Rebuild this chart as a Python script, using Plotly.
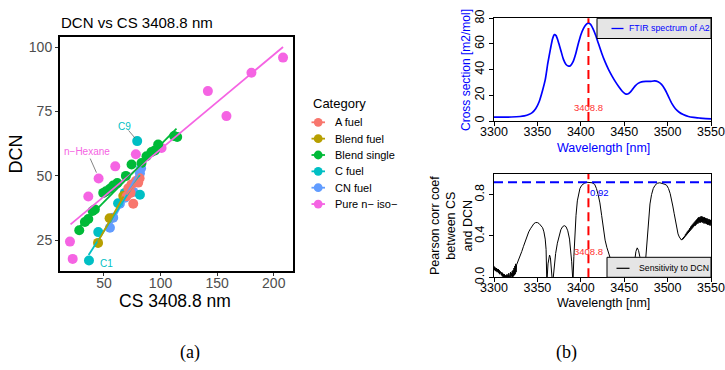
import numpy as np
import plotly.graph_objects as go

W, H = 725, 370
SANS = "Liberation Sans"

# ---------------- panel (a): DCN against cross section at 3408.8 nm ----------------
categories = ["A fuel", "Blend fuel", "Blend single", "C fuel", "CN fuel", "Pure n\u2212 iso\u2212"]
colors = ["#F8766D", "#B79F00", "#00BA38", "#00BFC4", "#619CFF", "#F564E3"]

a_fuel_cs = [81.5, 78.2, 74.4, 71.5, 73.5, 70.0, 75.9, 80.3]
a_fuel_dcn = [49.1, 48.0, 46.7, 45.2, 43.4, 42.1, 39.2, 47.4]

blend_fuel_cs = [44.8, 55.0, 67.1]
blend_fuel_dcn = [24.0, 33.6, 42.2]

blend_single_cs = [114.7, 112.0, 97.9, 95.0, 92.0, 87.6, 83.2, 74.4, 69.4, 61.8,
                   58.2, 55.3, 51.8, 49.4, 42.0, 40.0, 36.2, 33.2, 28.2]
blend_single_dcn = [65.1, 65.5, 62.2, 59.9, 59.3, 57.6, 55.0, 54.4, 50.0, 47.2,
                    46.3, 45.0, 44.0, 43.4, 37.0, 36.4, 33.3, 32.1, 28.9]

c_fuel_cs = [36.8, 45.0, 62.5, 68.5, 79.4, 81.8]
c_fuel_dcn = [17.2, 28.2, 39.4, 43.4, 63.5, 42.7]

cn_fuel_cs = [55.3, 58.2, 64.1, 68.5, 75.9, 81.8, 82.8]
cn_fuel_dcn = [29.9, 33.8, 39.2, 41.5, 43.8, 51.0, 53.0]

pure_cs = [208.2, 180.3, 141.8, 158.2, 78.2, 60.0, 45.3, 36.2, 20.0, 22.4, 100.9]
pure_dcn = [95.9, 90.0, 82.9, 73.2, 58.4, 53.7, 49.0, 42.0, 24.5, 17.8, 60.8]

# end points of the per-category least-squares lines
fit_x = {
    "A fuel": [70.0, 81.8], "Blend fuel": [44.6, 67.3], "Blend single": [27.4, 114.1],
    "C fuel": [36.5, 81.8], "CN fuel": [55.3, 82.8], "Pure n\u2212 iso\u2212": [20.5, 208.2],
}
fit_y = {
    "A fuel": [42.8, 49.4], "Blend fuel": [24.4, 42.0], "Blend single": [29.8, 68.3],
    "C fuel": [19.3, 50.3], "CN fuel": [30.3, 53.6], "Pure n\u2212 iso\u2212": [31.2, 100.0],
}

points = {
    "A fuel": (a_fuel_cs, a_fuel_dcn),
    "Blend fuel": (blend_fuel_cs, blend_fuel_dcn),
    "Blend single": (blend_single_cs, blend_single_dcn),
    "C fuel": (c_fuel_cs, c_fuel_dcn),
    "CN fuel": (cn_fuel_cs, cn_fuel_dcn),
    "Pure n\u2212 iso\u2212": (pure_cs, pure_dcn),
}
draw_order = ["Pure n\u2212 iso\u2212", "CN fuel", "C fuel", "Blend fuel", "A fuel", "Blend single"]

# labelled fuels: (text, label x, label y, point x, point y, colour)
point_labels = [
    ("C9", 68.5, 69.0, 79.4, 63.5, "#00BFC4"),
    ("n\u2212Hexane", 34.7, 59.3, 45.3, 49.0, "#F564E3"),
    ("C1", 52.4, 16.2, None, None, "#00BFC4"),
]

# ---------------- panel (b), top: FTIR spectrum of A2 ----------------
ftir_wl = [3300, 3310, 3320, 3330, 3335, 3340, 3344, 3348, 3352, 3356, 3359, 3362,
           3365, 3367.5, 3369.5, 3371.5, 3374, 3377, 3380, 3383, 3386, 3388, 3391,
           3394, 3397, 3400, 3403, 3406, 3408.5, 3411, 3414, 3417, 3420, 3424, 3428,
           3432, 3436, 3440, 3444, 3448, 3451, 3454, 3457, 3460, 3463, 3466, 3470,
           3475, 3480, 3485, 3489, 3493, 3497, 3501, 3505, 3509, 3513, 3518, 3524,
           3530, 3537, 3544, 3550]
ftir_cs = [3.0, 3.0, 3.1, 3.5, 4.0, 5.0, 6.5, 9.5, 15.0, 24.0, 32.0, 45.0,
           56.0, 64.0, 67.3, 66.5, 62.0, 55.0, 48.0, 44.0, 42.7, 43.0, 46.0,
           52.0, 60.0, 67.0, 72.0, 75.0, 76.2, 75.5, 72.0, 67.0, 61.0, 53.0, 46.0,
           40.0, 35.0, 30.5, 26.5, 23.0, 21.3, 21.0, 22.5, 25.0, 27.5, 29.3, 30.5,
           30.8, 30.8, 31.2, 30.5, 28.5, 24.5, 19.0, 13.5, 9.5, 7.0, 5.0, 3.5,
           2.8, 2.3, 1.9, 1.6]

PEAK_WL = 3408.8
MAX_R = 0.92

# ---------------- panel (b), bottom: Pearson correlation of CS with DCN ----------------
pearson_wl_left = np.arange(3300.0, 3326.01, 0.5)
pearson_r_left = [0.11, 0.07, 0.10, 0.06, 0.09, 0.06, 0.09, 0.05, 0.08, 0.05,
                  0.08, 0.04, 0.07, 0.03, 0.06, 0.03, 0.05, 0.02, 0.05, 0.01,
                  0.04, 0.00, 0.03, -0.01, 0.03, -0.02, 0.02, -0.02, 0.02, -0.01,
                  0.03, -0.02, 0.02, -0.01, 0.04, 0.00, 0.03, -0.01, 0.05, 0.00,
                  0.04, 0.01, 0.06, 0.00, 0.07, 0.01, 0.09, 0.02, 0.11, 0.03,
                  0.13, 0.05, 0.12]

pearson_wl_mid = [3326.5, 3328, 3330, 3332, 3334, 3336, 3338, 3340, 3342, 3344, 3346,
                  3348, 3350, 3352, 3354, 3356, 3357.5, 3359, 3360, 3360.7, 3361.0,
                  3361.3, 3362.2, 3363, 3364, 3365, 3366, 3367.3, 3367.8,
                  3368.3, 3369.5, 3371, 3373, 3375, 3377, 3379, 3381, 3383, 3385, 3387,
                  3388.5, 3389.5, 3390.6, 3390.8,
                  3391.2, 3392, 3393, 3394.5, 3396, 3397.5, 3399, 3401, 3404, 3407, 3410,
                  3413, 3416, 3418, 3420, 3422, 3424, 3426, 3428, 3430, 3432, 3434, 3436,
                  3438, 3440, 3442, 3458,
                  3460, 3462, 3463.5, 3465, 3466.5, 3468, 3470, 3472,
                  3474.5, 3475.5, 3476.6, 3478, 3479.7, 3481.5, 3483.5, 3485.5, 3488, 3491,
                  3494, 3497, 3499, 3501, 3503, 3504.6, 3506, 3507.5, 3509, 3510.5, 3512,
                  3513.5, 3515, 3516]
pearson_r_mid = [0.13, 0.16, 0.20, 0.25, 0.30, 0.35, 0.40, 0.44, 0.47, 0.50, 0.52,
                 0.53, 0.53, 0.52, 0.50, 0.48, 0.44, 0.37, 0.27, 0.0, -0.1,
                 0.0, 0.13, 0.20, 0.215, 0.19, 0.11, 0.0, -0.1,
                 0.0, 0.12, 0.23, 0.33, 0.41, 0.46, 0.49, 0.50, 0.49, 0.45, 0.37,
                 0.27, 0.15, 0.0, -0.1,
                 0.0, 0.20, 0.39, 0.60, 0.74, 0.81, 0.86, 0.89, 0.91, 0.92, 0.92,
                 0.915, 0.90, 0.86, 0.80, 0.72, 0.60, 0.46, 0.36, 0.29, 0.24, 0.19, 0.13,
                 0.06, 0.0, -0.1, -0.1,
                 0.05, 0.17, 0.25, 0.285, 0.26, 0.20, 0.10, 0.0,
                 0.15, 0.25, 0.39, 0.56, 0.71, 0.80, 0.86, 0.89, 0.91, 0.915,
                 0.91, 0.90, 0.89, 0.86, 0.81, 0.76, 0.69, 0.62, 0.54, 0.47, 0.42,
                 0.39, 0.37, 0.36]

pearson_wl_right = np.arange(3516.5, 3550.01, 0.5)
pearson_r_right = [0.37, 0.365, 0.38, 0.37, 0.39, 0.38, 0.40, 0.39, 0.415, 0.40,
                   0.425, 0.41, 0.44, 0.42, 0.45, 0.43, 0.46, 0.44, 0.475, 0.45,
                   0.49, 0.46, 0.50, 0.47, 0.51, 0.48, 0.52, 0.49, 0.53, 0.50,
                   0.54, 0.50, 0.55, 0.51, 0.56, 0.52, 0.57, 0.52, 0.58, 0.53,
                   0.58, 0.53, 0.585, 0.53, 0.59, 0.535, 0.59, 0.53, 0.585, 0.53,
                   0.58, 0.52, 0.58, 0.525, 0.575, 0.52, 0.57, 0.515, 0.57, 0.51,
                   0.565, 0.51, 0.56, 0.505, 0.56, 0.50, 0.555, 0.51]

wl_ticks = [3300, 3350, 3400, 3450, 3500, 3550]


def fx(p):
    """pixel column -> paper x"""
    return p / W


def fy(p):
    """pixel row -> paper y"""
    return 1 - p / H


def note(x, y, text, size, color="black", xanchor="center", angle=0, family=SANS,
         xref="paper", yref="paper"):
    return dict(x=x, y=y, xref=xref, yref=yref, text=text, showarrow=False,
                xanchor=xanchor, yanchor="middle", textangle=angle,
                font=dict(family=family, size=size, color=color))


fig = go.Figure()

# scatter points, then the fitted lines on top
for cat in draw_order:
    xs, ys = points[cat]
    col = colors[categories.index(cat)]
    fig.add_trace(go.Scatter(x=xs, y=ys, mode="markers", xaxis="x", yaxis="y",
                             marker=dict(size=10, color=col, line=dict(width=0)),
                             showlegend=False, hoverinfo="skip"))
for cat in draw_order:
    col = colors[categories.index(cat)]
    fig.add_trace(go.Scatter(x=fit_x[cat], y=fit_y[cat], mode="lines", xaxis="x", yaxis="y",
                             line=dict(color=col, width=1.8), showlegend=False,
                             hoverinfo="skip"))

fig.add_trace(go.Scatter(x=ftir_wl, y=ftir_cs, mode="lines", xaxis="x2", yaxis="y2",
                         line=dict(color="#0000FF", width=1.7, shape="spline", smoothing=0.6),
                         showlegend=False, hoverinfo="skip"))

pearson_wl = list(pearson_wl_left) + pearson_wl_mid + list(pearson_wl_right)
pearson_r = pearson_r_left + pearson_r_mid + pearson_r_right
fig.add_trace(go.Scatter(x=pearson_wl, y=pearson_r, mode="lines", xaxis="x3", yaxis="y3",
                         line=dict(color="black", width=1), showlegend=False,
                         hoverinfo="skip"))

shapes = []
annotations = []

# label leader segments and labels for panel (a)
for text, lx, ly, qx, qy, col in point_labels:
    annotations.append(note(lx, ly, text, 10, col, xref="x", yref="y"))
    if qx is not None:
        shapes.append(dict(type="line", xref="x", yref="y",
                           x0=lx + (qx - lx) * 0.3, y0=ly + (qy - ly) * 0.25,
                           x1=lx + (qx - lx) * 0.82, y1=ly + (qy - ly) * 0.78,
                           line=dict(color="#666666", width=0.8)))

# dashed reference lines in panel (b)
shapes.append(dict(type="line", xref="x2", yref="y2 domain", x0=PEAK_WL, x1=PEAK_WL, y0=0, y1=1,
                   line=dict(color="#FF0000", width=2, dash="9px,5px")))
shapes.append(dict(type="line", xref="x3", yref="y3 domain", x0=PEAK_WL, x1=PEAK_WL, y0=0, y1=1,
                   line=dict(color="#FF0000", width=2, dash="9px,5px")))
shapes.append(dict(type="line", xref="x3 domain", yref="y3", x0=0, x1=1, y0=MAX_R, y1=MAX_R,
                   line=dict(color="#0000FF", width=2, dash="9px,5px")))

annotations += [
    note(PEAK_WL, 10.5, f"{PEAK_WL}", 9.5, "#FF3030", xref="x2", yref="y2"),
    note(PEAK_WL, 0.245, f"{PEAK_WL}", 9.5, "#FF3030", xref="x3", yref="y3"),
    note(3421.5, 0.82, f"{MAX_R}", 9.5, "#0000FF", xref="x3", yref="y3"),
]

# legend boxes of panel (b)
shapes.append(dict(type="rect", xref="paper", yref="paper", x0=fx(597), x1=fx(711),
                   y0=fy(38.5), y1=fy(18.3), fillcolor="#E5E5E5",
                   line=dict(color="black", width=1)))
shapes.append(dict(type="line", xref="paper", yref="paper", x0=fx(611.5), x1=fx(623.5),
                   y0=fy(28.5), y1=fy(28.5), line=dict(color="#0000FF", width=1.3)))
annotations.append(note(fx(626.5), fy(28.5), "FTIR spectrum of A2", 8.8, "#0000FF",
                        xanchor="left"))
shapes.append(dict(type="rect", xref="paper", yref="paper", x0=fx(607), x1=fx(711),
                   y0=fy(277.3), y1=fy(257.3), fillcolor="#E5E5E5",
                   line=dict(color="black", width=1)))
shapes.append(dict(type="line", xref="paper", yref="paper", x0=fx(616.5), x1=fx(629.5),
                   y0=fy(268.3), y1=fy(268.3), line=dict(color="black", width=1.2)))
annotations.append(note(fx(637), fy(268.3), "Sensitivity to DCN", 8.7, xanchor="left"))

# category legend for panel (a)
annotations.append(note(fx(311), fy(103), "Category", 13, xanchor="left"))
for i, (cat, col) in enumerate(zip(categories, colors)):
    yc = 122.3 + i * 16.35
    shapes.append(dict(type="line", xref="paper", yref="paper", x0=fx(311.5), x1=fx(325),
                       y0=fy(yc), y1=fy(yc), line=dict(color=col, width=1.8)))
    shapes.append(dict(type="circle", xref="paper", yref="paper", x0=fx(313.8), x1=fx(322.6),
                       y0=fy(yc + 4.4), y1=fy(yc - 4.4), fillcolor=col, line=dict(width=0)))
    annotations.append(note(fx(333), fy(yc), cat, 11, xanchor="left"))

# titles
annotations += [
    note(fx(59), fy(22.5), "DCN vs CS 3408.8 nm", 15, xanchor="left"),
    note(fx(15.5), fy(154), "DCN", 18, angle=-90),
    note(fx(175), fy(301), "CS 3408.8 nm", 17.5),
    note(fx(466), fy(70), "Cross section [m2/mol]", 12, "#0000FF", angle=-90),
    note(fx(603), fy(147.5), "Wavelength [nm]", 12.5, "#0000FF"),
    note(fx(451), fy(225), "Pearson corr coef<br>between CS<br>and DCN", 12.5, angle=-90),
    note(fx(603), fy(303), "Wavelength [nm]", 12.5),
    note(fx(190), fy(352), "(a)", 18, family="Liberation Serif"),
    note(fx(566), fy(352), "(b)", 18, family="Liberation Serif"),
]

gg_axis = dict(showgrid=False, zeroline=False, showline=True, mirror=True, automargin=False,
               linecolor="black", linewidth=2, ticks="outside", ticklen=3,
               tickcolor="#333333", tickwidth=1,
               tickfont=dict(family=SANS, size=14, color="#4D4D4D"))
base_axis = dict(showgrid=False, zeroline=False, showline=True, mirror=True, automargin=False,
                 linecolor="black", linewidth=1, ticks="outside", ticklen=4,
                 tickcolor="black", tickwidth=1,
                 tickfont=dict(family=SANS, size=12.5, color="black"))

fig.update_layout(
    width=W, height=H, autosize=False,
    margin=dict(l=0, r=0, t=0, b=0, pad=0),
    paper_bgcolor="white", plot_bgcolor="white",
    showlegend=False,
    xaxis=dict(gg_axis, domain=[fx(60), fx(293)], range=[11.2, 217],
               tickvals=[50, 100, 150, 200], anchor="y", ticklabelstandoff=-5),
    yaxis=dict(gg_axis, domain=[fy(271), fy(37)], range=[13.1, 103.9],
               tickvals=[25, 50, 75, 100], anchor="x"),
    xaxis2=dict(base_axis, domain=[fx(494), fx(711)], range=[3300, 3550],
                tickvals=wl_ticks, anchor="y2", ticklabelstandoff=-5),
    yaxis2=dict(base_axis, domain=[fy(121), fy(18.3)], range=[0, 80],
                tickvals=[0, 20, 40, 60, 80], tickangle=-90, anchor="x2"),
    xaxis3=dict(base_axis, domain=[fx(494), fx(711)], range=[3300, 3550],
                tickvals=wl_ticks, anchor="y3", ticklabelstandoff=-5),
    yaxis3=dict(base_axis, domain=[fy(277.3), fy(174)], range=[0, 1.0],
                tickvals=[0, 0.4, 0.8], ticktext=["0.0", "0.4", "0.8"],
                tickangle=-90, anchor="x3"),
    shapes=shapes,
    annotations=annotations,
)

fig.write_html("out.html")
